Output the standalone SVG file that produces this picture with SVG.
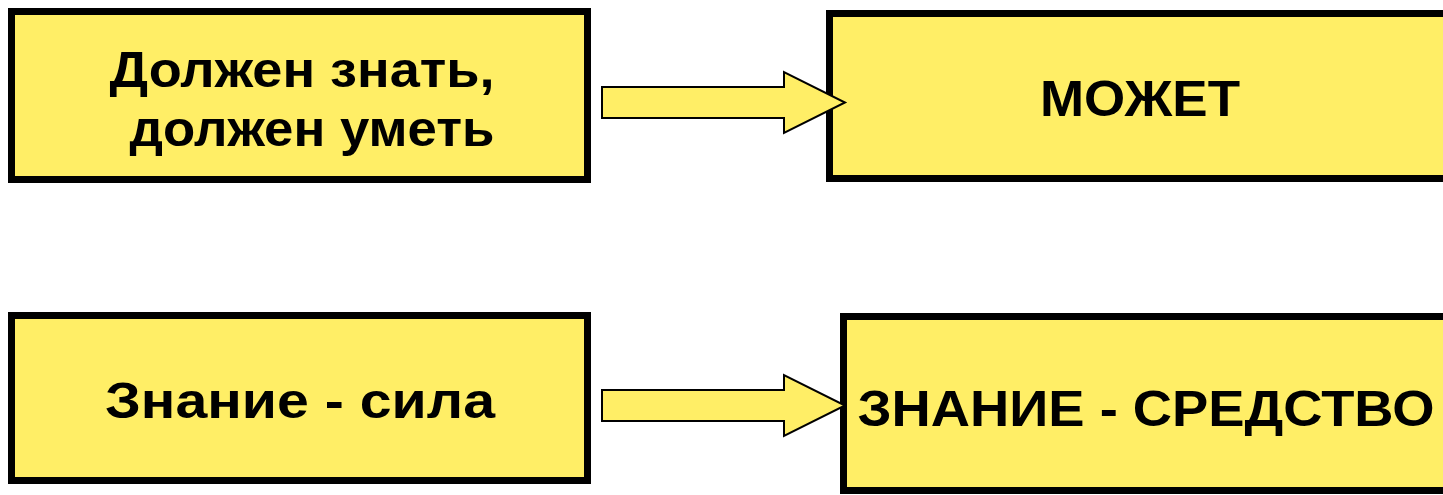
<svg xmlns="http://www.w3.org/2000/svg" width="1443" height="495" viewBox="0 0 1443 495">
<style>
.box{fill:#FFEE66;stroke:#000;stroke-width:7}
.arr{fill:#FFEE66;stroke:#000;stroke-width:2;stroke-linejoin:miter}
.t{font-family:"Liberation Sans","Noto Sans",sans-serif;font-weight:bold;font-size:50px;fill:#000;text-anchor:middle}
</style>
<rect width="1443" height="495" fill="#fff"/>
<g id="n1">
<rect class="box" x="11.5" y="11.5" width="576" height="168"/>
<text class="t" x="302" y="87" textLength="385" lengthAdjust="spacingAndGlyphs">Должен знать,</text>
<text class="t" x="312" y="146" textLength="365" lengthAdjust="spacingAndGlyphs">должен уметь</text>
</g>
<g id="n2">
<rect class="box" x="829.5" y="13.5" width="630" height="165"/>
<text class="t" x="1140" y="116" font-size="56" textLength="200" lengthAdjust="spacingAndGlyphs">МОЖЕТ</text>
</g>
<g id="n3">
<rect class="box" x="11.5" y="315.5" width="576" height="165"/>
<text class="t" x="300" y="418" textLength="390" lengthAdjust="spacingAndGlyphs">Знание - сила</text>
</g>
<g id="n4">
<rect class="box" x="843.5" y="316.5" width="620" height="174"/>
<text class="t" x="1146" y="426" font-size="56" textLength="577" lengthAdjust="spacingAndGlyphs">ЗНАНИЕ - СРЕДСТВО</text>
</g>
<g id="connectors">
<polygon class="arr" points="602,87 784,87 784,72 845,102.5 784,133 784,118 602,118"/>
<polygon class="arr" points="602,390 784,390 784,375 845,405.5 784,436 784,421 602,421"/>
</g>
</svg>
